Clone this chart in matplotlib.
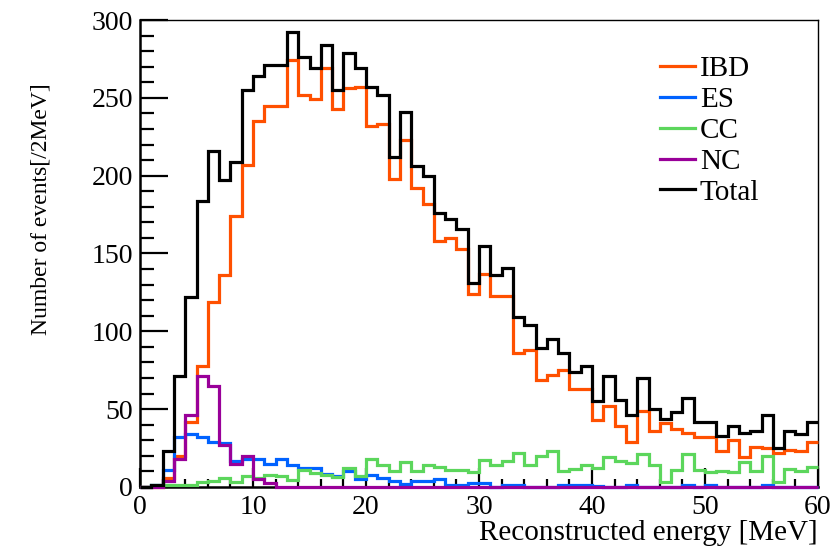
import numpy as np
import matplotlib
matplotlib.use("Agg")
import matplotlib.pyplot as plt
from matplotlib.ticker import MultipleLocator

plt.rcParams['font.family'] = ['Liberation Serif', 'DejaVu Serif']
plt.rcParams['mathtext.fontset'] = 'stix'

# bin edges in MeV (1 MeV bins from 0 to 60)
bin_edges = list(range(0, 61))

ibd = [0, 0, 6, 20, 42, 78, 119, 136, 174, 207,
       235, 245, 245, 274, 252, 249, 269, 243, 256, 257,
       232, 233, 198, 223, 192, 182, 158, 160, 153, 124,
       137, 123, 123, 86, 88, 69, 72, 75, 63, 63,
       43, 52, 39, 29, 49, 36, 41, 37, 35, 32,
       32, 23, 30, 19, 26, 25, 22, 24, 23, 29]

es = [0, 1, 11, 32, 34, 32, 29, 28, 17, 18,
      18, 15, 18, 14, 12, 12, 8.5, 7, 10.5, 5,
      8, 6, 4, 2, 4, 4, 5, 1.5, 1.5, 2.5,
      2.5, 0, 1.5, 1.5, 0, 0, 0, 1.5, 1.5, 1.5,
      0.5, 0, 0, 1, 0, 0, 0, 0, 1, 0,
      1, 0, 0, 0, 0, 1, 0, 0, 0, 0]

cc = [0, 1, 1, 1, 1, 3, 4, 6, 3, 7,
      6, 8, 7, 4.5, 11, 9, 7.5, 6.5, 12, 7,
      18, 14, 10, 16, 10, 14, 13, 11, 11, 9.5,
      17.5, 14, 17, 22, 14, 20, 23, 10, 11.5, 14,
      12.5, 19, 17, 15.5, 21, 14, 3, 11, 21, 11,
      9.5, 10, 9.5, 16, 10, 20, 3, 11.5, 10.5, 13]

nc = [0, 0, 4, 18, 46, 71, 65, 27, 15, 20,
      5, 2.5, 0, 0, 0, 0, 0, 0, 0, 0,
      0, 0, 0, 0, 0, 0, 0, 0, 0, 0,
      0, 0, 0, 0, 0, 0, 0, 0, 0, 0,
      0, 0, 0, 0, 0, 0, 0, 0, 0, 0,
      0, 0, 0, 0, 0, 0, 0, 0, 0, 0]

total = [0, 1, 23, 71, 122, 184, 216, 197, 209, 255,
         264, 271, 271, 292, 276, 269, 284, 255, 279, 269,
         257, 252, 212, 241, 206, 200, 176, 172, 166, 131,
         155, 136, 141, 109, 104, 89, 95, 86, 74, 78,
         55, 71, 56, 46, 70, 50, 44, 48, 57, 42,
         42, 32.5, 39, 35, 36, 46, 25, 36, 34, 42]

series_names = ["IBD", "ES", "CC", "NC", "Total"]
series_vals = [ibd, es, cc, nc, total]
colors = ["#ff5000", "#0062ff", "#5cd65c", "#990099", "#000000"]

W, H = 834, 552
fig = plt.figure(figsize=(W / 100, H / 100), dpi=100)
ax = fig.add_axes([140 / W, 1 - 487 / H, 678 / W, 467 / H])

lw = 2.3
for i, (name, vals, c) in enumerate(zip(series_names, series_vals, colors)):
    ax.stairs(vals, bin_edges, color=c, linewidth=lw, label=name, baseline=None,
              zorder=3 + i * 0.1, clip_on=False)

ax.set_xlim(0, 60)
ax.set_ylim(0, 300)

ax.xaxis.set_major_locator(MultipleLocator(10))
ax.xaxis.set_minor_locator(MultipleLocator(2))
ax.yaxis.set_major_locator(MultipleLocator(50))
ax.yaxis.set_minor_locator(MultipleLocator(10))

ax.tick_params(axis='both', which='both', direction='in', top=False, right=False,
               labelsize=20, colors='black')
ax.tick_params(axis='y', which='major', length=20, width=1.6, pad=5)
ax.tick_params(axis='y', which='minor', length=10, width=1.6)
ax.tick_params(axis='x', which='major', length=14, width=1.6, pad=6)
ax.tick_params(axis='x', which='minor', length=6, width=1.6)

ax.spines['left'].set_linewidth(1.8)
ax.spines['bottom'].set_linewidth(1.8)
ax.spines['top'].set_linewidth(1.0)
ax.spines['right'].set_linewidth(1.0)

ax.set_xlabel("Reconstructed energy [MeV]", fontsize=21, loc='right', labelpad=0)
ax.set_ylabel("Number of events[/2MeV]", fontsize=17)
ax.yaxis.set_label_coords(-0.13, 0.595)

leg = fig.legend(loc='upper left', bbox_to_anchor=(660 / W, 1 - 56 / H), frameon=False,
                 fontsize=21, handlelength=1.2, handletextpad=0.17,
                 labelspacing=0.15, borderaxespad=0, borderpad=0)
for h in leg.get_lines():
    h.set_linewidth(2.3)

fig.savefig("out.png", dpi=100)
